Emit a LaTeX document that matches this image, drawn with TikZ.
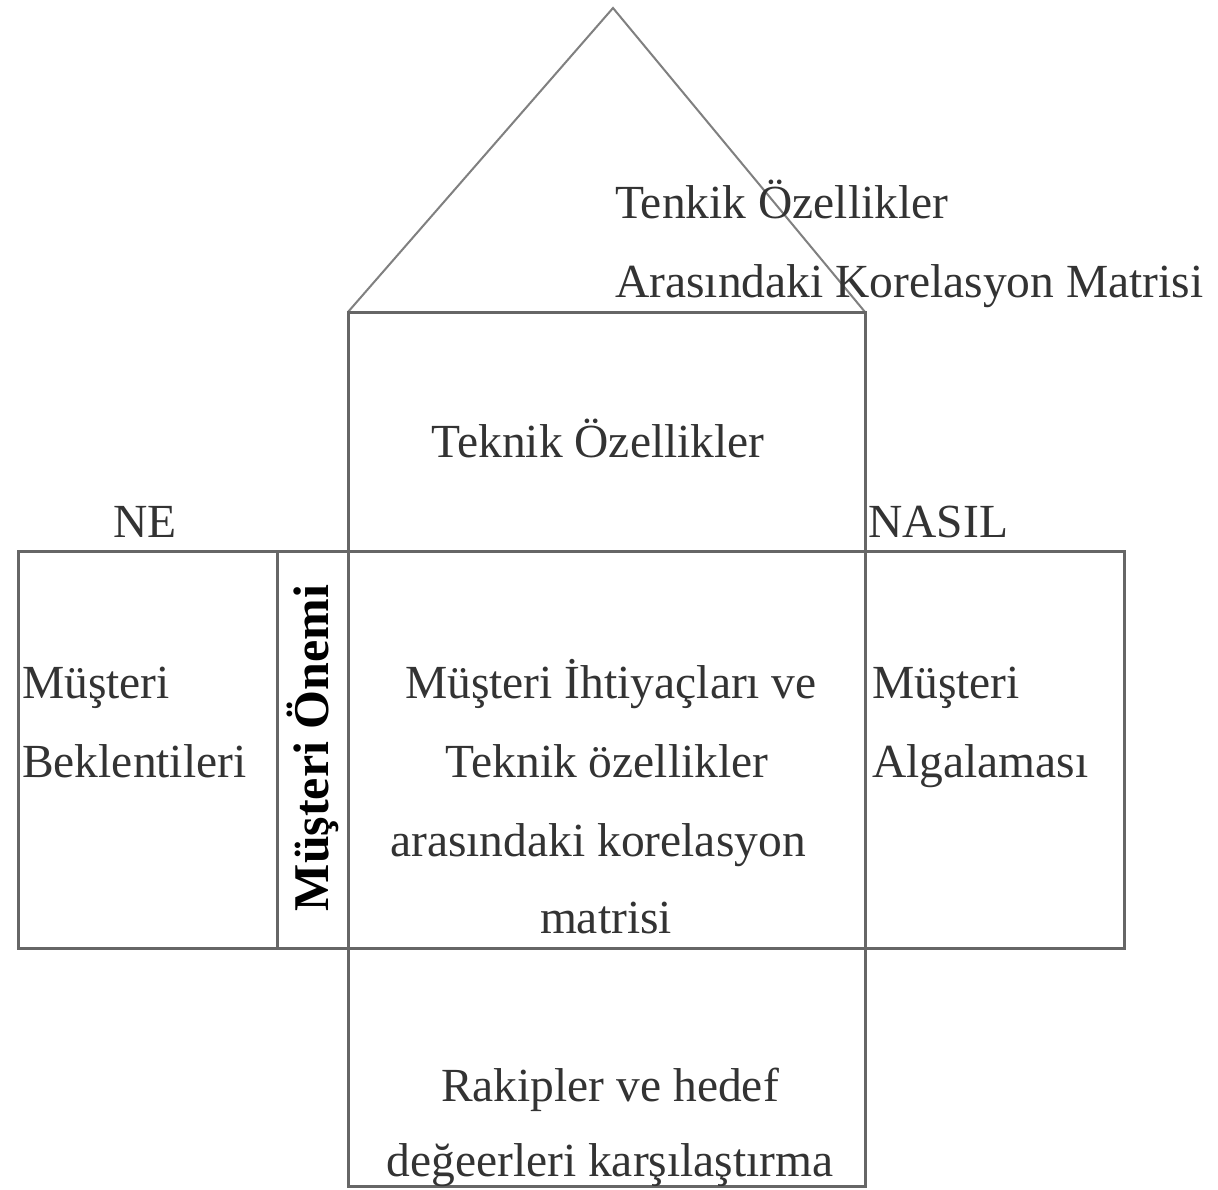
\documentclass[tikz,border=0pt]{standalone}
\usepackage{fontspec}
\setmainfont{Liberation Serif}
\begin{document}
\begin{tikzpicture}[x=1pt,y=-1pt,
  frame/.style={draw=black!60, line width=3pt},
  roof/.style={draw=black!50, line width=2pt},
  lbl/.style={font=\fontsize{47.5}{54}\selectfont, text=black!80, inner sep=0pt},
  vlbl/.style={font=\fontsize{50}{56}\selectfont\bfseries, text=black, inner sep=0pt, rotate=90}]
\useasboundingbox (0,0) rectangle (1218,1189);
\fill[white] (0,0) rectangle (1218,1189);

% corner points of the house
\coordinate (apex) at (613,8);
\coordinate (rl) at (348,312);
\coordinate (rr) at (865,312);
\coordinate (bl) at (348,1186);
\coordinate (br) at (865,1186);
\coordinate (wl) at (18,551);
\coordinate (wr) at (1124,948);
\coordinate (imp) at (277,551);
\coordinate (impb) at (277,948);

% roof
\draw[roof] (rl) -- (apex) -- (rr);
% central column
\draw[frame] (rl) rectangle (br);
% wide band across the middle
\draw[frame] (wl) rectangle (wr);
\draw[frame] (imp) -- (impb);

% labels
\node[lbl, anchor=base west] (t1) at (615,218) {Tenkik Özellikler};
\node[lbl, anchor=base west] (t2) at (615,297) {Arasındaki Korelasyon Matrisi};
\node[lbl, anchor=base] (tek) at (598,457) {Teknik Özellikler};
\node[lbl, anchor=base] (ne) at (145,537) {NE};
\node[lbl, anchor=base west] (nasil) at (868,537) {NASIL};
\node[lbl, anchor=base west] (me1) at (22,698) {Müşteri};
\node[lbl, anchor=base west] (me2) at (22,777) {Beklentileri};
\node[vlbl] (mo) at (313,748) {Müşteri Önemi};
\node[lbl, anchor=base] (c1) at (611,698) {Müşteri İhtiyaçları ve};
\node[lbl, anchor=base] (c2) at (607,777) {Teknik özellikler};
\node[lbl, anchor=base] (c3) at (598,856) {arasındaki korelasyon};
\node[lbl, anchor=base] (c4) at (606,933) {matrisi};
\node[lbl, anchor=base west] (ma1) at (872,698) {Müşteri};
\node[lbl, anchor=base west] (ma2) at (872,777) {Algalaması};
\node[lbl, anchor=base] (r1) at (610,1101) {Rakipler ve hedef};
\node[lbl, anchor=base] (r2) at (610,1176) {değeerleri karşılaştırma};
\end{tikzpicture}
\end{document}
